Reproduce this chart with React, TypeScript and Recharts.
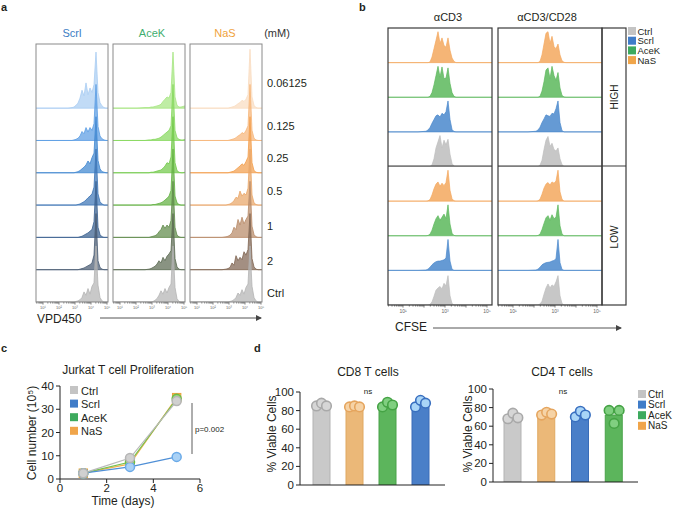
import React from 'react';
import { ComposedChart, Area, XAxis, YAxis, Line, Bar, Cell } from 'recharts';

const FONT = '"Liberation Sans", Arial, Helvetica, sans-serif';
const INK = '#231f20';

// ---------------- Panel a : VPD450 dilution histograms ----------------
const vpdChannels = [0, 12, 24, 32, 36, 38, 40, 42, 44, 46, 48, 50, 52, 54, 56, 58, 60, 62, 64, 66, 68, 70, 72];
const doseLabels = ['0.06125', '0.125', '0.25', '0.5', '1', '2', 'Ctrl'];
const vpdTickLabels = ['10¹', '10²', '10³', '10⁴', '10⁵'];

const scrlHists = [
  [0, 0, 0, 0, 1, 2, 5, 9, 18, 32, 22, 45, 24, 36, 28, 42, 100, 28, 10, 4, 1, 0, 0],
  [0, 0, 0, 0, 0, 1, 2, 4, 8, 16, 12, 23, 15, 23, 18, 30, 100, 25, 8, 3, 1, 0, 0],
  [0, 0, 0, 0, 0, 0, 1, 2, 4, 7, 10, 14, 21, 16, 27, 35, 100, 22, 7, 2, 1, 0, 0],
  [0, 0, 0, 0, 0, 0, 0, 1, 2, 4, 6, 9, 13, 16, 20, 32, 100, 20, 6, 2, 0, 0, 0],
  [0, 0, 0, 0, 0, 0, 0, 0, 1, 2, 4, 6, 8, 11, 14, 28, 100, 18, 5, 1, 0, 0, 0],
  [0, 0, 0, 0, 0, 0, 0, 0, 1, 2, 3, 5, 7, 9, 12, 26, 100, 16, 4, 1, 0, 0, 0],
  [0, 0, 0, 0, 0, 0, 1, 2, 4, 8, 18, 12, 24, 14, 28, 34, 100, 30, 8, 2, 0, 0, 0],
];
const acekHists = [
  [0, 0, 0, 1, 1, 2, 2, 3, 4, 5, 7, 12, 16, 20, 18, 28, 100, 20, 5, 2, 2, 3, 4],
  [0, 0, 0, 0, 1, 1, 2, 2, 3, 4, 6, 9, 12, 15, 18, 26, 100, 18, 5, 2, 1, 1, 2],
  [0, 0, 0, 0, 0, 1, 1, 2, 3, 4, 5, 8, 12, 18, 16, 28, 100, 18, 4, 1, 0, 0, 1],
  [0, 0, 0, 0, 0, 0, 1, 1, 2, 3, 4, 6, 9, 12, 16, 26, 100, 16, 4, 1, 0, 0, 0],
  [0, 0, 0, 0, 0, 1, 2, 3, 5, 10, 14, 22, 16, 22, 18, 30, 100, 18, 4, 1, 0, 0, 0],
  [0, 0, 0, 0, 1, 2, 4, 6, 10, 16, 12, 22, 16, 24, 28, 34, 100, 20, 5, 1, 0, 0, 0],
  [0, 0, 0, 0, 0, 0, 1, 3, 6, 12, 20, 14, 24, 16, 26, 32, 100, 26, 6, 1, 0, 0, 0],
];
const nasHists = [
  [0, 0, 0, 0, 0, 0, 1, 2, 3, 5, 8, 10, 14, 12, 16, 24, 105, 20, 5, 1, 0, 0, 0],
  [0, 0, 0, 0, 0, 0, 1, 2, 3, 5, 8, 10, 14, 12, 18, 26, 100, 18, 4, 1, 0, 0, 0],
  [0, 0, 0, 0, 0, 0, 1, 2, 3, 6, 9, 12, 16, 13, 20, 28, 100, 18, 4, 1, 0, 0, 0],
  [0, 0, 0, 0, 0, 1, 2, 4, 8, 14, 12, 25, 16, 21, 18, 30, 100, 18, 4, 1, 0, 0, 0],
  [0, 0, 0, 0, 1, 2, 4, 8, 18, 14, 32, 22, 36, 24, 32, 38, 100, 20, 5, 1, 0, 0, 0],
  [0, 0, 0, 0, 1, 2, 4, 12, 8, 25, 16, 22, 18, 32, 26, 36, 100, 20, 5, 1, 0, 0, 0],
  [0, 0, 0, 0, 0, 0, 1, 2, 4, 8, 16, 12, 22, 14, 26, 32, 100, 28, 8, 2, 0, 0, 0],
];
const scrlShades = ['#a9cdf2', '#5b9de3', '#3f86d0', '#3b74b5', '#39608f', '#485a72', '#b4b4b4'];
const acekShades = ['#a6e682', '#86d85e', '#72c94a', '#62b041', '#5f8a4a', '#5b6a52', '#b4b4b4'];
const nasShades = ['#f9dcc0', '#f6b67a', '#f29e4c', '#e9a668', '#b88a68', '#7f6452', '#b4b4b4'];

// ---------------- Panel b : CFSE histograms ----------------
const cfseChannels = [0, 30, 38, 40, 42, 44, 46, 48, 50, 52, 54, 56, 58, 60, 62, 64, 66, 68, 72, 104];
const cfseTickLabels = ['10¹', '', '10³', '', '10⁵'];
const cd3Hists = [
  [0, 0, 0, 0, 2, 18, 45, 72, 100, 62, 80, 55, 50, 80, 40, 15, 4, 0, 0, 0],
  [0, 0, 0, 0, 3, 15, 40, 70, 100, 65, 98, 60, 62, 95, 45, 15, 3, 0, 0, 0],
  [0, 0, 2, 6, 14, 28, 40, 52, 55, 48, 60, 55, 65, 100, 40, 8, 1, 0, 0, 0],
  [0, 0, 0, 0, 0, 5, 25, 60, 80, 100, 60, 85, 70, 88, 40, 10, 1, 0, 0, 0],
  [0, 0, 0, 1, 5, 20, 40, 55, 62, 48, 58, 50, 60, 100, 35, 8, 1, 0, 0, 0],
  [0, 0, 0, 1, 5, 18, 38, 55, 65, 50, 60, 70, 55, 100, 38, 8, 1, 0, 0, 0],
  [0, 0, 1, 4, 10, 18, 24, 28, 30, 30, 32, 34, 40, 100, 30, 4, 0, 0, 0, 0],
  [0, 0, 0, 0, 2, 10, 28, 48, 55, 60, 52, 70, 62, 95, 30, 5, 0, 0, 0, 0],
];
const cd3cd28Hists = [
  [0, 0, 0, 0, 4, 25, 60, 95, 100, 62, 85, 52, 45, 60, 25, 6, 1, 0, 0, 0],
  [0, 0, 0, 0, 3, 20, 50, 88, 95, 60, 100, 70, 55, 80, 30, 6, 1, 0, 0, 0],
  [0, 0, 2, 6, 15, 30, 42, 55, 52, 50, 60, 58, 75, 100, 30, 4, 0, 0, 0, 0],
  [0, 0, 0, 0, 4, 20, 55, 85, 97, 65, 75, 55, 50, 60, 25, 6, 0, 0, 0, 0],
  [0, 0, 0, 1, 6, 22, 42, 55, 60, 52, 62, 58, 65, 100, 30, 6, 0, 0, 0, 0],
  [0, 0, 0, 1, 5, 20, 40, 58, 65, 50, 68, 55, 60, 100, 32, 6, 0, 0, 0, 0],
  [0, 0, 1, 4, 10, 18, 22, 25, 26, 27, 30, 32, 38, 100, 25, 3, 0, 0, 0, 0],
  [0, 0, 0, 0, 3, 12, 35, 55, 68, 55, 65, 60, 75, 95, 30, 5, 0, 0, 0, 0],
];
const bRowColors = ['#f3a85e', '#5cb85c', '#4a88cc', '#bdbdbd', '#f3a85e', '#5cb85c', '#4a88cc', '#bdbdbd'];

// ---------------- Legend ----------------
const groupNames = ['Ctrl', 'Scrl', 'AceK', 'NaS'];
const groupColors: Record<string, string> = { Ctrl: '#c4c4c4', Scrl: '#3f7cc8', AceK: '#3daa5e', NaS: '#f0a54a' };

// ---------------- Panel c ----------------
const days = [1, 3, 5];
const ctrlCells = [2.5, 9, 33.5];
const scrlCells = [2.5, 5.2, 9.5];
const acekCells = [2.5, 7.3, 34.5];
const nasCells = [2.5, 6.5, 35];
const cellTicks = [0, 10, 20, 30, 40];
const dayTicks = [0, 2, 4, 6];

// ---------------- Panel d ----------------
const cd8Groups = ['Ctrl', 'NaS', 'AceK', 'Scrl'];
const cd8Means = [86, 84, 86, 88];
const cd8Reps = [[85, 88, 85], [84, 85, 84], [84, 89, 86], [84, 91, 88]];
const cd4Groups = ['Ctrl', 'NaS', 'Scrl', 'AceK'];
const cd4Means = [70, 73, 73, 72];
const cd4Reps = [[68, 74, 69], [72, 75, 73], [70, 76, 72], [77, 63, 77]];
const viabilityTicks = [0, 20, 40, 60, 80, 100];

const barFill: Record<string, string> = { Ctrl: '#c9c9c9', NaS: '#ebb878', AceK: '#5cb55c', Scrl: '#4a7fc8' };
const barStroke: Record<string, string> = { Ctrl: '#b3b3b3', NaS: '#e0a860', AceK: '#49a249', Scrl: '#3a6db8' };
const dotFill: Record<string, string> = { Ctrl: '#d6d6d6', NaS: '#f6d3a6', AceK: '#80cf80', Scrl: '#a9d5f7' };
const dotStroke: Record<string, string> = { Ctrl: '#a9a9a9', NaS: '#e5a55e', AceK: '#45a345', Scrl: '#3a70c0' };

// ---------------- helpers ----------------
type TickInfo = { v: number; label: string; major: boolean };

function logTicks(first: number, decade: number, max: number, labels: string[]): TickInfo[] {
  const out: TickInfo[] = [];
  for (let d = -1; d < 6; d++) {
    for (let m = 1; m <= 9; m++) {
      const v = first + (d + Math.log10(m)) * decade;
      if (v >= 0 && v <= max) out.push({ v, major: m === 1, label: m === 1 && d >= 0 ? labels[d] || '' : '' });
    }
  }
  return out;
}

function makeTick(info: TickInfo[], fs: number, majorLen: number, minorLen: number, labelGap: number) {
  return (props: any) => {
    const { x, y, payload, index } = props;
    let best = info[0];
    let bd = Infinity;
    for (const t of info) {
      const d = Math.abs(t.v - payload.value);
      if (d < bd) { bd = d; best = t; }
    }
    return (
      <g key={`tk-${index}`}>
        <line x1={x} x2={x} y1={y} y2={y + (best.major ? majorLen : minorLen)} stroke="#333" strokeWidth={0.6} />
        {best.label ? (
          <text x={x} y={y + labelGap} fontSize={fs} textAnchor="middle" fill="#666" fontFamily={FONT}>{best.label}</text>
        ) : null}
      </g>
    );
  };
}

function buildRidge(xs: number[], hists: number[][], rowStep: number) {
  return xs.map((x, j) => {
    const row: any = { x };
    hists.forEach((h, i) => {
      const base = (hists.length - 1 - i) * rowStep;
      row['r' + i] = [base, base + h[j]];
    });
    return row;
  });
}

function Ridge(props: {
  left: number; top: number; width: number; height: number; axisH: number; padR: number;
  xs: number[]; hists: number[][]; colors: string[]; rowStep: number; yMax: number; xMax: number;
  ticks: TickInfo[]; tickEl: any; fillOpacity: number; strokeWidth: number;
}) {
  const data = buildRidge(props.xs, props.hists, props.rowStep);
  return (
    <div style={{ position: 'absolute', left: props.left, top: props.top }}>
      <ComposedChart width={props.width + props.padR} height={props.height + props.axisH} data={data}
        margin={{ top: 0, right: props.padR, bottom: 0, left: 0 }}>
        <XAxis dataKey="x" type="number" domain={[0, props.xMax]} ticks={props.ticks.map((t) => t.v)} interval={0}
          height={props.axisH} axisLine={false} tickLine={false} tickSize={0} tickMargin={0} tick={props.tickEl} allowDataOverflow />
        <YAxis hide type="number" domain={[0, props.yMax]} allowDataOverflow />
        {props.hists.map((_, i) => (
          <Area key={i} dataKey={(d: any) => d['r' + i]} type="linear" stroke={props.colors[i]} strokeWidth={props.strokeWidth}
            fill={props.colors[i]} fillOpacity={props.fillOpacity} isAnimationActive={false} dot={false} activeDot={false} />
        ))}
      </ComposedChart>
    </div>
  );
}

function ViabilityChart(props: { left: number; top: number; groups: string[]; means: number[]; reps: number[][]; padL: number; padR: number }) {
  const data = props.groups.map((g, i) => ({ g, mean: props.means[i], r0: props.reps[i][0], r1: props.reps[i][1], r2: props.reps[i][2] }));
  const tickStyle = { fontSize: 11.5, fill: INK, fontFamily: FONT };
  return (
    <div style={{ position: 'absolute', left: props.left, top: props.top }}>
      <ComposedChart width={190} height={106} data={data} margin={{ top: 6, right: 5, bottom: 5, left: 0 }}>
        <XAxis dataKey="g" type="category" padding={{ left: props.padL, right: props.padR }} tick={false} tickLine={false} height={2} stroke="#222" />
        <YAxis type="number" domain={[0, 100]} ticks={viabilityTicks} interval={0} width={40} tick={tickStyle} tickSize={4} tickMargin={2} stroke="#222" allowDataOverflow />
        <Bar dataKey="mean" barSize={17} isAnimationActive={false}>
          {props.groups.map((g) => (
            <Cell key={g} fill={barFill[g]} stroke={barStroke[g]} strokeWidth={1} />
          ))}
        </Bar>
        {[0, 1, 2].map((k) => (
          <Line key={k} dataKey={'r' + k} stroke="none" isAnimationActive={false} activeDot={false} legendType="none"
            dot={(p: any) => (
              <circle key={`dot-${k}-${p.index}`} cx={p.cx + (k - 1) * 5} cy={p.cy} r={4.8}
                fill={dotFill[p.payload.g]} stroke={dotStroke[p.payload.g]} strokeWidth={1.6} />
            )} />
        ))}
      </ComposedChart>
    </div>
  );
}

export default function App() {
  const aTicks = logTicks(7, 16, 72, vpdTickLabels);
  const bTicks = logTicks(15, 21, 104, cfseTickLabels);
  const aTick = makeTick(aTicks, 4, 2.6, 1.5, 6.5);
  const bTick = makeTick(bTicks, 5, 2.6, 1.6, 8);

  const aRowStep = 57.6;
  const aYMax = 460;
  const bRowStep = 112;
  const bYMax = 896;

  const prolif = days.map((d, i) => ({ day: d, Ctrl: ctrlCells[i], Scrl: scrlCells[i], AceK: acekCells[i], NaS: nasCells[i] }));
  const axisTickX = { fontSize: 11.5, fill: INK, fontFamily: FONT };
  const axisTickY = { fontSize: 11.5, fill: INK, fontFamily: FONT };

  const square = (fill: string, stroke: string) => (p: any) => (
    <rect key={`sq-${fill}-${p.index}`} x={p.cx - 4.2} y={p.cy - 4.2} width={8.4} height={8.4} fill={fill} stroke={stroke} strokeWidth={1} />
  );

  const aCols = [
    { name: 'Scrl', color: '#3b7dc4', cx: 72, left: 36, hists: scrlHists, shades: scrlShades },
    { name: 'AceK', color: '#3fae6f', cx: 152, left: 113, hists: acekHists, shades: acekShades },
    { name: 'NaS', color: '#f0a23c', cx: 225, left: 190, hists: nasHists, shades: nasShades },
  ];
  const doseBaselines = [87, 130, 162, 195, 230, 265, 297];

  return (
    <div style={{ position: 'absolute', left: 0, top: 0, width: 675, height: 510, background: '#fff', overflow: 'hidden', fontFamily: FONT }}>
      {/* Panel a histograms */}
      {aCols.map((c) => (
        <Ridge key={c.name} left={c.left} top={44} width={72} height={258} axisH={10} padR={4} xs={vpdChannels} hists={c.hists}
          colors={c.shades} rowStep={aRowStep} yMax={aYMax} xMax={72} ticks={aTicks} tickEl={aTick} fillOpacity={0.72} strokeWidth={0.8} />
      ))}

      {/* Panel b histograms */}
      <Ridge left={388} top={28} width={104} height={277} axisH={12} padR={4} xs={cfseChannels} hists={cd3Hists}
        colors={bRowColors} rowStep={bRowStep} yMax={bYMax} xMax={104} ticks={bTicks} tickEl={bTick} fillOpacity={0.85} strokeWidth={0.7} />
      <Ridge left={498} top={28} width={104} height={277} axisH={12} padR={4} xs={cfseChannels} hists={cd3cd28Hists}
        colors={bRowColors} rowStep={bRowStep} yMax={bYMax} xMax={104} ticks={bTicks} tickEl={bTick} fillOpacity={0.85} strokeWidth={0.7} />

      {/* Panel c */}
      <div style={{ position: 'absolute', left: 20, top: 380 }}>
        <ComposedChart width={190} height={120} data={prolif} margin={{ top: 6, right: 10, bottom: 1, left: 0 }}>
          <XAxis dataKey="day" type="number" domain={[0, 6]} ticks={dayTicks} interval={0} height={20} tick={axisTickX} tickSize={4} tickMargin={1} stroke="#222" allowDataOverflow />
          <YAxis type="number" domain={[0, 40]} ticks={cellTicks} interval={0} width={40} tick={axisTickY} tickSize={4} tickMargin={2} stroke="#222" allowDataOverflow />
          <Line dataKey="NaS" type="linear" stroke="#f2b04e" strokeWidth={1.2} isAnimationActive={false} activeDot={false} dot={square('#f2b84e', '#e8a23c')} />
          <Line dataKey="AceK" type="linear" stroke="#74c24f" strokeWidth={1.2} isAnimationActive={false} activeDot={false} dot={{ r: 4.5, fill: '#9bd67a', stroke: '#6cbc48', strokeWidth: 1.5 }} />
          <Line dataKey="Scrl" type="linear" stroke="#4f8fd6" strokeWidth={1.2} isAnimationActive={false} activeDot={false} dot={{ r: 4.5, fill: '#a9d1f5', stroke: '#6aaae8', strokeWidth: 1.5 }} />
          <Line dataKey="Ctrl" type="linear" stroke="#b9b9b9" strokeWidth={1.2} isAnimationActive={false} activeDot={false} dot={{ r: 4.5, fill: '#d0d0d0', stroke: '#b5b5b5', strokeWidth: 1.5 }} />
        </ComposedChart>
      </div>

      {/* Panel d */}
      <ViabilityChart left={260} top={386} groups={cd8Groups} means={cd8Means} reps={cd8Reps} padL={5} padR={8} />
      <ViabilityChart left={453} top={383} groups={cd4Groups} means={cd4Means} reps={cd4Reps} padL={3} padR={7} />

      {/* Overlay: frames, titles, legends */}
      <svg width={675} height={510} style={{ position: 'absolute', left: 0, top: 0, pointerEvents: 'none' }} fontFamily={FONT}>
        <defs>
          <marker id="arr" markerWidth="6" markerHeight="6" refX="5" refY="3" orient="auto">
            <path d="M0,0 L6,3 L0,6 Z" fill="#444" />
          </marker>
        </defs>
        {/* panel letters */}
        <text x={1} y={11} fontSize={11} fontWeight="bold" fill={INK}>a</text>
        <text x={359} y={11} fontSize={11} fontWeight="bold" fill={INK}>b</text>
        <text x={1} y={352} fontSize={11} fontWeight="bold" fill={INK}>c</text>
        <text x={254} y={352} fontSize={11} fontWeight="bold" fill={INK}>d</text>

        {/* panel a frames & labels */}
        {aCols.map((c) => (
          <g key={c.name}>
            <rect x={c.left} y={44} width={72} height={258} fill="none" stroke="#8a8a8a" strokeWidth={1} />
            <text x={c.cx} y={37} fontSize={11} textAnchor="middle" fill={c.color}>{c.name}</text>
          </g>
        ))}
        <text x={277} y={37} fontSize={11} textAnchor="middle" fill="#333">(mM)</text>
        {doseLabels.map((d, i) => (
          <text key={d} x={267} y={doseBaselines[i]} fontSize={11} fill={INK}>{d}</text>
        ))}
        <text x={37} y={323} fontSize={12} fill={INK}>VPD450</text>
        <line x1={100} y1={318} x2={261} y2={318} stroke="#555" strokeWidth={1} markerEnd="url(#arr)" />

        {/* panel b frames & labels */}
        <rect x={388} y={28} width={104} height={277} fill="none" stroke="#3a3a3a" strokeWidth={1.2} />
        <rect x={498} y={28} width={104} height={277} fill="none" stroke="#3a3a3a" strokeWidth={1.2} />
        <rect x={602} y={28} width={24} height={277} fill="none" stroke="#3a3a3a" strokeWidth={1.2} />
        <line x1={388} y1={166} x2={492} y2={166} stroke="#3a3a3a" strokeWidth={1.2} />
        <line x1={498} y1={166} x2={626} y2={166} stroke="#3a3a3a" strokeWidth={1.2} />
        <text x={448} y={21} fontSize={11} textAnchor="middle" fill={INK}>αCD3</text>
        <text x={547} y={21} fontSize={11} textAnchor="middle" fill={INK}>αCD3/CD28</text>
        <text x={618} y={97} fontSize={10} textAnchor="middle" fill={INK} transform="rotate(-90 618 97)">HIGH</text>
        <text x={618} y={237} fontSize={10} textAnchor="middle" fill={INK} transform="rotate(-90 618 237)">LOW</text>
        {groupNames.map((g, i) => (
          <g key={'bl' + g}>
            <rect x={628} y={27 + i * 9.7} width={8} height={8} fill={groupColors[g]} />
            <text x={637.5} y={34.5 + i * 9.7} fontSize={9.5} fill={INK}>{g}</text>
          </g>
        ))}
        <text x={395} y={331} fontSize={12} fill={INK}>CFSE</text>
        <line x1={433} y1={328} x2={621} y2={328} stroke="#555" strokeWidth={1} markerEnd="url(#arr)" />

        {/* panel c labels */}
        <text x={128} y={374} fontSize={12} textAnchor="middle" fill={INK}>Jurkat T cell Proliferation</text>
        <text x={123} y={505} fontSize={12} textAnchor="middle" fill={INK}>Time (days)</text>
        <text x={36} y={433} fontSize={12} textAnchor="middle" fill={INK} transform="rotate(-90 36 433)">Cell number (10⁵)</text>
        {groupNames.map((g, i) => (
          <g key={'cl' + g}>
            <rect x={70} y={386 + i * 13.6} width={8} height={8} fill={groupColors[g]} />
            <text x={81} y={394.5 + i * 13.6} fontSize={11} fill={INK}>{g}</text>
          </g>
        ))}
        <line x1={192} y1={403} x2={192} y2={454} stroke="#333" strokeWidth={0.8} />
        <text x={195} y={432} fontSize={8} fill={INK}>p=0.002</text>

        {/* panel d labels */}
        <text x={368} y={376} fontSize={12} textAnchor="middle" fill={INK}>CD8 T cells</text>
        <text x={562} y={376} fontSize={12} textAnchor="middle" fill={INK}>CD4 T cells</text>
        <text x={368} y={394} fontSize={8} textAnchor="middle" fill={INK}>ns</text>
        <text x={563} y={394} fontSize={8} textAnchor="middle" fill={INK}>ns</text>
        <text x={276} y={434} fontSize={12} textAnchor="middle" fill={INK} transform="rotate(-90 276 434)">% Viable Cells</text>
        <text x={472} y={434} fontSize={12} textAnchor="middle" fill={INK} transform="rotate(-90 472 434)">% Viable Cells</text>
        {groupNames.map((g, i) => (
          <g key={'dl' + g}>
            <rect x={638} y={390 + i * 10.6} width={8} height={8} fill={groupColors[g]} />
            <text x={648} y={397.5 + i * 10.6} fontSize={10} fill={INK}>{g}</text>
          </g>
        ))}
      </svg>
    </div>
  );
}
